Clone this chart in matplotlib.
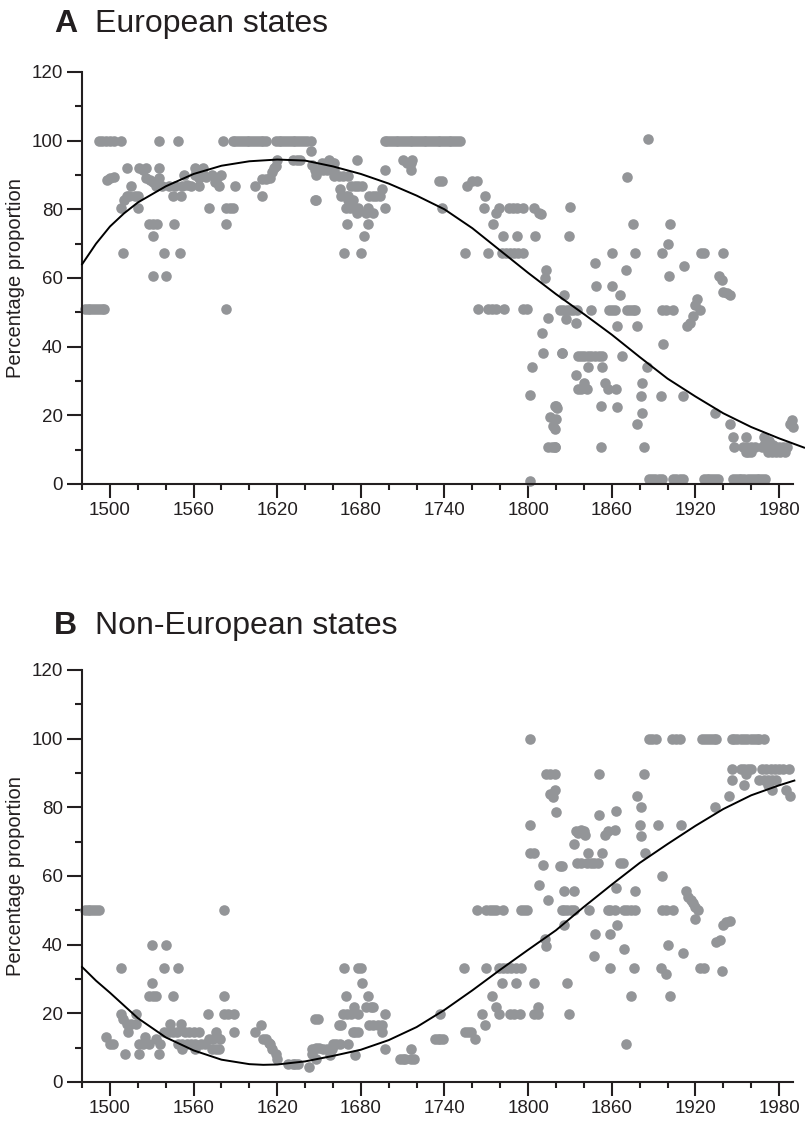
import matplotlib
matplotlib.use('Agg')
import matplotlib.pyplot as plt
from matplotlib.ticker import MultipleLocator, FixedLocator

plt.rcParams['font.family'] = ['Liberation Sans', 'DejaVu Sans']

DOT = '#939598'
INK = '#231f20'

# ---- Panel A: European states (year, percentage) ----
eu_pts = [
    # early row at ~51
    (1482, 51), (1484, 51), (1486, 51), (1488, 51), (1490, 51), (1492, 51), (1494, 51), (1496, 51),
    # 100 rows
    (1492, 100), (1494, 100), (1497, 100), (1500, 100), (1503, 100), (1508, 100), (1535, 100), (1549, 100), (1581, 100),
    (1588, 100), (1590, 100), (1592, 100), (1594, 100), (1596, 100), (1598, 100), (1600, 100), (1602, 100),
    (1604, 100), (1606, 100), (1608, 100), (1610, 100), (1612, 100),
    (1619, 100), (1621, 100), (1623, 100), (1625, 100), (1627, 100), (1629, 100), (1631, 100), (1633, 100),
    (1635, 100), (1637, 100), (1639, 100), (1641, 100), (1644, 100),
    (1697, 100), (1699, 100), (1701, 100), (1703, 100), (1705, 100), (1707, 100), (1709, 100), (1711, 100),
    (1713, 100), (1715, 100), (1717, 100), (1719, 100), (1721, 100), (1723, 100), (1725, 100), (1727, 100),
    (1729, 100), (1731, 100), (1733, 100), (1735, 100), (1737, 100), (1739, 100), (1741, 100), (1743, 100),
    (1745, 100), (1747, 100), (1749, 100), (1751, 100), (1886, 100.5),
    # 1495-1600
    (1498, 88.6), (1500, 89), (1503, 89.3),
    (1508, 80.4), (1509, 67.3), (1510, 82.8), (1512, 83.8), (1514, 84), (1512, 92), (1515, 86.7), (1518, 84),
    (1520, 83.8), (1520, 80.4), (1521, 92), (1524, 91.5), (1526, 89), (1526, 92), (1529, 88.5), (1531, 88),
    (1533, 86.7), (1535, 92), (1535, 89), (1537, 86.7),
    (1528, 75.6), (1531, 75.6), (1534, 75.6), (1531, 72.2), (1531, 60.6), (1540, 60.6), (1539, 67.3),
    (1550, 67.3), (1546, 75.6),
    (1542, 86.7), (1545, 83.8), (1547, 86.7), (1551, 83.8), (1552, 86.7), (1553, 90), (1555, 87), (1558, 86.7),
    (1561, 90), (1561, 92), (1564, 86.7), (1564, 89), (1567, 92), (1567, 90), (1569, 89.5), (1571, 80.4),
    (1573, 90), (1575, 88), (1577, 89), (1578, 86.7), (1580, 90), (1583, 80.4), (1583, 75.6), (1583, 50.9),
    (1586, 80.4), (1588, 80.4), (1590, 86.7),
    # 1600-1650
    (1604, 86.7), (1609, 83.8), (1609, 88.7), (1612, 88.7), (1615, 89), (1616, 91), (1618, 92), (1620, 94.5),
    (1619, 92.5), (1631, 94.5), (1634, 94.5), (1636, 94.5), (1644, 96.9), (1645, 93), (1648, 90), (1648, 82.8),
    # 1650-1720
    (1652, 93.5), (1655, 93.5), (1657, 94.5), (1659, 93.5), (1661, 93.5),
    (1647, 91.6), (1650, 91.6), (1653, 91.6), (1656, 91.6), (1659, 91.6), (1661, 91.6),
    (1661, 89.6), (1664, 89.6), (1667, 89.6), (1671, 89.6), (1677, 94.5),
    (1673, 86.7), (1676, 86.7), (1678, 86.7), (1681, 86.7), (1665, 85.8), (1695, 85.8),
    (1666, 83.8), (1669, 83.8), (1671, 83.8), (1686, 83.8), (1689, 83.8), (1691, 83.8), (1694, 83.8),
    (1647, 82.8), (1671, 82.8), (1674, 82.8),
    (1669, 80.4), (1672, 80.4), (1675, 80.4), (1678, 80.4), (1685, 80.4), (1697, 80.4),
    (1677, 79), (1684, 79), (1689, 79), (1670, 75.6), (1685, 75.6), (1682, 72.2), (1668, 67.3), (1680, 67.3),
    (1710, 94.5), (1713, 93.5), (1717, 94.5), (1716, 93.5), (1716, 91.6), (1697, 91.6),
    # 1720-1820
    (1736, 88.2), (1738, 88.2), (1760, 88.2), (1763, 88.2), (1756, 86.7), (1769, 83.8), (1738, 80.4),
    (1768, 80.4), (1779, 80.4), (1786, 80.4), (1789, 80.4), (1792, 80.4), (1796, 80.4), (1804, 80.4),
    (1808, 79), (1777, 79), (1809, 78.5), (1775, 75.6), (1782, 72.2), (1792, 72.2), (1805, 72.2),
    (1755, 67.3), (1771, 67.3), (1781, 67.3), (1784, 67.3), (1787, 67.3), (1790, 67.3), (1793, 67.3), (1796, 67.3),
    (1813, 62.3), (1812, 60), (1764, 50.9), (1771, 50.9), (1774, 50.9), (1777, 50.9), (1783, 50.9), (1796, 50.9),
    (1799, 50.9), (1814, 48.4), (1810, 44), (1811, 38.3), (1824, 38.3), (1803, 34.2), (1801, 25.9),
    (1820, 22.8), (1816, 19.5), (1818, 17), (1814, 10.7), (1817, 10.7), (1819, 10.7), (1801, 1),
    # 1820-1990
    (1871, 89.4), (1830, 80.6), (1875, 75.6), (1902, 75.6), (1829, 72.2), (1900, 70), (1860, 67.3), (1877, 67.3),
    (1896, 67.3), (1924, 67.3), (1926, 67.3), (1940, 67.3), (1848, 64.4), (1912, 63.5), (1870, 62.3),
    (1901, 60.6), (1937, 60.6), (1939, 59.5), (1849, 57.8), (1860, 57.8), (1940, 56), (1943, 55.5), (1945, 55),
    (1826, 55), (1866, 55), (1921, 53.8),
    (1823, 50.6), (1825, 50.6), (1828, 50.6), (1830, 50.6), (1832, 50.6), (1835, 50.6), (1845, 50.6),
    (1858, 50.6), (1860, 50.6), (1862, 50.6), (1871, 50.6), (1873, 50.6), (1875, 50.6), (1877, 50.6),
    (1896, 50.6), (1899, 50.6), (1904, 50.6), (1923, 50.6), (1920, 52), (1918, 49), (1916, 47), (1914, 46),
    (1827, 48), (1834, 47), (1864, 46), (1878, 46), (1897, 40.7), (1824, 38.3),
    (1836, 37.3), (1838, 37.3), (1840, 37.3), (1843, 37.3), (1845, 37.3), (1848, 37.3), (1851, 37.3),
    (1853, 37.3), (1867, 37.3), (1843, 34.2), (1853, 34.2), (1885, 34.2), (1834, 31.7), (1840, 29.5),
    (1855, 29.5), (1882, 29.5), (1836, 27.6), (1838, 27.6), (1840, 28), (1842, 27.6), (1857, 27.6),
    (1863, 27.6), (1881, 25.7), (1895, 25.7), (1911, 25.7), (1852, 22.8), (1819, 22.8), (1821, 22),
    (1864, 22.3), (1882, 20.6), (1934, 20.6), (1820, 18.9), (1878, 17.4), (1945, 17.4), (1819, 16),
    (1947, 13.6), (1956, 13.6), (1969, 13.6), (1819, 10.7), (1852, 10.7), (1883, 10.7),
    (1948, 10.7), (1954, 10.7), (1957, 10.7), (1960, 10.7), (1963, 10.7), (1968, 10.7), (1971, 10.7),
    (1974, 10.7), (1977, 10.7), (1980, 10.7), (1983, 10.7), (1986, 10.7), (1988, 17.4), (1989, 18.5),
    (1990, 16.5), (1956, 9.2), (1958, 9.2), (1960, 9.2), (1972, 9.2), (1975, 9.2), (1978, 9.2), (1981, 9.2),
    (1984, 9.2), (1970, 12), (1973, 12.5), (1976, 11.5),
    (1887, 1.5), (1889, 1.5), (1891, 1.5), (1894, 1.5), (1896, 1.5), (1904, 1.5), (1906, 1.5), (1909, 1.5),
    (1911, 1.5), (1926, 1.5), (1928, 1.5), (1930, 1.5), (1932, 1.5), (1934, 1.5), (1936, 1.5), (1947, 1.5),
    (1949, 1.5), (1951, 1.5), (1953, 1.5), (1955, 1.5), (1958, 1.5), (1960, 1.5), (1962, 1.5), (1964, 1.5),
    (1966, 1.5), (1968, 1.5), (1970, 1.5),
]
eu_years = [p[0] for p in eu_pts]
eu_vals = [p[1] for p in eu_pts]

# fitted trend
eu_curve_years = [1480, 1490, 1500, 1510, 1520, 1540, 1560, 1580, 1600, 1620, 1640, 1660, 1680, 1700,
                  1720, 1740, 1760, 1780, 1800, 1820, 1840, 1860, 1880, 1900, 1920, 1940, 1960, 1980, 1998]
eu_curve_vals = [64, 70, 75, 78.8, 82, 86.7, 90.3, 92.7, 94, 94.5, 94.2, 92.5, 90.3, 87.5,
                 84, 80, 74.5, 68, 61.5, 55.3, 49.5, 43.5, 37, 30.7, 25.5, 20.6, 16.6, 13.3, 10.6]

# ---- Panel B: Non-European states ----
ne_pts = [
    (1482, 50), (1484, 50), (1486, 50), (1488, 50), (1490, 50), (1492, 50), (1582, 50),
    (1530, 40), (1540, 40), (1508, 33.3), (1539, 33.3), (1549, 33.3), (1530, 28.8),
    (1528, 25), (1531, 25), (1533, 25), (1545, 25), (1582, 25),
    (1508, 19.9), (1519, 19.9), (1570, 19.9), (1582, 19.9), (1585, 19.9), (1589, 19.9),
    (1509, 18.4), (1647, 18.4),
    (1512, 17), (1515, 17), (1519, 17), (1543, 17), (1551, 17),
    (1513, 14.6), (1539, 14.6), (1542, 14.6), (1545, 14.6), (1548, 14.6), (1554, 14.6), (1557, 14.6),
    (1560, 14.6), (1564, 14.6), (1576, 14.6), (1589, 14.6), (1604, 14.6), (1608, 16.5),
    (1497, 13), (1525, 13), (1533, 12.6), (1571, 12.6), (1574, 12.6), (1577, 13), (1579, 12.6),
    (1610, 12.6), (1612, 12.6), (1614, 11.5),
    (1500, 11.2), (1502, 11.2), (1521, 11.2), (1524, 11.2), (1528, 11.2), (1536, 11.2), (1549, 11.2),
    (1552, 11.2), (1555, 11.2), (1558, 11.2), (1561, 11.2), (1565, 11.2), (1568, 11.2), (1615, 11.2),
    (1552, 9.7), (1561, 9.7), (1573, 9.7), (1576, 9.7), (1578, 9.7), (1616, 9.7),
    (1511, 8.3), (1521, 8.3), (1535, 8.3), (1619, 8.3), (1645, 8.3), (1620, 6.8), (1648, 6.8),
    (1628, 5.3), (1631, 5.3), (1633, 5.3), (1635, 5.3), (1643, 4.4), (1645, 9.5), (1648, 10), (1650, 10),
    # 1650-1820
    (1801, 100), (1813, 89.8), (1816, 89.8), (1819, 89.8), (1816, 84), (1818, 83), (1820, 78.6),
    (1801, 75), (1801, 66.7), (1804, 66.7), (1811, 63.1), (1823, 63), (1808, 57.3), (1814, 52.9),
    (1763, 50), (1770, 50), (1773, 50), (1775, 50), (1777, 50), (1782, 50), (1795, 50), (1797, 50), (1799, 50),
    (1812, 41.7), (1813, 39.5),
    (1668, 33.3), (1678, 33.3), (1680, 33.3), (1754, 33.3), (1770, 33.3), (1779, 33.3), (1782, 33.3),
    (1785, 33.3), (1788, 33.3), (1791, 33.3), (1795, 33.3),
    (1681, 28.8), (1781, 28.8), (1791, 28.8), (1804, 28.8), (1669, 25), (1685, 25), (1774, 25),
    (1675, 21.8), (1684, 21.8), (1687, 21.8), (1689, 21.8), (1777, 21.8), (1807, 21.8),
    (1667, 19.9), (1670, 19.9), (1673, 19.9), (1678, 19.9), (1697, 19.9), (1737, 19.9), (1767, 19.9),
    (1779, 19.9), (1787, 19.9), (1790, 19.9), (1794, 19.9), (1804, 19.9), (1807, 19.9), (1649, 18.4),
    (1664, 16.5), (1666, 16.5), (1686, 16.5), (1689, 16.5), (1692, 16.5), (1695, 16.5), (1769, 16.5),
    (1674, 14.6), (1676, 14.6), (1678, 14.6), (1695, 14.6), (1755, 14.6), (1757, 14.6), (1759, 14.6),
    (1733, 12.6), (1735, 12.6), (1737, 12.6), (1739, 12.6), (1762, 12.6),
    (1660, 11.2), (1662, 11.2), (1665, 11.2), (1671, 11.2),
    (1653, 9.7), (1656, 9.7), (1659, 9.7), (1697, 9.7), (1716, 9.7), (1676, 7.8), (1658, 7.8),
    (1708, 6.8), (1710, 6.8), (1712, 6.8), (1716, 6.8), (1718, 6.8),
    # 1820-1990
    (1887, 100), (1889, 100), (1892, 100), (1903, 100), (1906, 100), (1909, 100), (1925, 100), (1927, 100),
    (1929, 100), (1931, 100), (1933, 100), (1935, 100), (1946, 100), (1948, 100), (1950, 100), (1953, 100),
    (1955, 100), (1957, 100), (1960, 100), (1962, 100), (1964, 100), (1966, 100), (1969, 100),
    (1946, 91.3), (1953, 91.3), (1955, 91.3), (1958, 91.3), (1960, 91.3), (1968, 91.3), (1971, 91.3),
    (1974, 91.3), (1977, 91.3), (1980, 91.3), (1983, 91.3), (1987, 91.3),
    (1851, 89.8), (1883, 89.8), (1956, 89.8),
    (1946, 87.9), (1966, 87.9), (1969, 87.9), (1972, 87.9), (1975, 87.9), (1978, 87.9),
    (1955, 86.4), (1972, 86.4), (1819, 85), (1975, 85), (1985, 85),
    (1878, 83.3), (1944, 83.3), (1988, 83.3), (1934, 80.1), (1881, 80.1), (1863, 78.8), (1851, 77.7),
    (1880, 75), (1893, 75), (1910, 75),
    (1834, 73), (1836, 72.5), (1838, 73.5), (1840, 73), (1841, 72), (1855, 72), (1857, 73), (1862, 73.5),
    (1881, 71.6), (1833, 69.4), (1843, 66.7), (1853, 66.7), (1884, 66.7),
    (1835, 63.9), (1838, 63.9), (1842, 63.9), (1845, 63.9), (1847, 63.9), (1850, 63.9), (1866, 63.9), (1868, 63.9),
    (1824, 62.9), (1896, 59.9), (1863, 56.6), (1826, 55.5), (1833, 55.5), (1877, 55.5), (1913, 55.5),
    (1915, 54), (1917, 53), (1918, 52), (1920, 51),
    (1824, 50), (1826, 50), (1828, 50), (1831, 50), (1833, 50), (1844, 50), (1857, 50), (1859, 50),
    (1862, 50), (1869, 50), (1871, 50), (1874, 50), (1877, 50), (1896, 50), (1899, 50), (1904, 50), (1922, 50),
    (1920, 47.6), (1826, 45.8), (1864, 45.8), (1940, 45.8), (1942, 46.5), (1945, 47),
    (1848, 43.2), (1859, 43.2), (1935, 40.8), (1938, 41.5), (1900, 40), (1869, 38.8), (1911, 37.7),
    (1847, 36.6), (1859, 33.3), (1876, 33.3), (1895, 33.3), (1923, 33.3), (1926, 33.3),
    (1899, 31.6), (1939, 32.3), (1828, 28.8), (1874, 25), (1902, 25), (1829, 19.9), (1870, 11.2),
]
ne_years = [p[0] for p in ne_pts]
ne_vals = [p[1] for p in ne_pts]

ne_curve_years = [1480, 1490, 1500, 1520, 1540, 1560, 1580, 1600, 1610, 1620, 1640, 1660, 1680, 1700,
                  1720, 1740, 1760, 1780, 1800, 1820, 1840, 1860, 1880, 1900, 1920, 1940, 1960, 1980, 1991]
ne_curve_vals = [33.5, 29.5, 26, 18.6, 13, 9.2, 6.5, 5.2, 5, 5.1, 6, 7.6, 9.4, 12.2,
                 16, 21, 26.7, 32.7, 38.5, 44.2, 51, 57.5, 63.8, 69.3, 74.6, 79.5, 83.5, 86.4, 87.8]

panels = [
    ('A', 'European states', eu_years, eu_vals, eu_curve_years, eu_curve_vals, 1 - 484 / 1122, 32),
    ('B', 'Non-European states', ne_years, ne_vals, ne_curve_years, ne_curve_vals, 1 - 1082 / 1122, 634),
]

fig = plt.figure(figsize=(8.05, 11.22), dpi=100)
left = 82.1 / 805
width = 722 / 805
height = 412 / 1122

for letter, name, xs, ys, cx, cy, bottom, title_y in panels:
    ax = fig.add_axes([left, bottom, width, height])
    ax.scatter(xs, ys, s=58, color=DOT, linewidths=0, clip_on=False, zorder=2)
    ax.plot(cx, cy, color='black', linewidth=1.4, clip_on=False, zorder=3)

    ax.set_xlim(1480, 1998)
    ax.set_ylim(0, 120)
    for side in ('top', 'right'):
        ax.spines[side].set_visible(False)
    for side in ('left', 'bottom'):
        ax.spines[side].set_linewidth(1.5)
        ax.spines[side].set_color(INK)
    ax.spines['left'].set_bounds(0, 120)
    ax.spines['bottom'].set_bounds(1480, 1990)

    ax.xaxis.set_major_locator(FixedLocator(list(range(1500, 1981, 60))))
    ax.xaxis.set_minor_locator(FixedLocator(list(range(1480, 1981, 20))))
    ax.yaxis.set_major_locator(MultipleLocator(20))
    ax.yaxis.set_minor_locator(MultipleLocator(10))
    ax.tick_params(which='both', direction='out', width=1.5, color=INK, labelcolor=INK, labelsize=13.5)
    ax.tick_params(axis='x', which='major', length=10, pad=3)
    ax.tick_params(axis='x', which='minor', length=4)
    ax.tick_params(axis='y', which='major', length=11, pad=3)
    ax.tick_params(axis='y', which='minor', length=5)

    ax.set_ylabel('Percentage proportion', fontsize=14.5, color=INK)
    ax.yaxis.set_label_coords(-0.079, 0.5)

    fig.text(54 / 805, 1 - title_y / 1122, letter, fontsize=23, fontweight='bold', color=INK, va='baseline')
    fig.text(95 / 805, 1 - title_y / 1122, name, fontsize=23, color=INK, va='baseline')

fig.savefig('out.png', dpi=100)
